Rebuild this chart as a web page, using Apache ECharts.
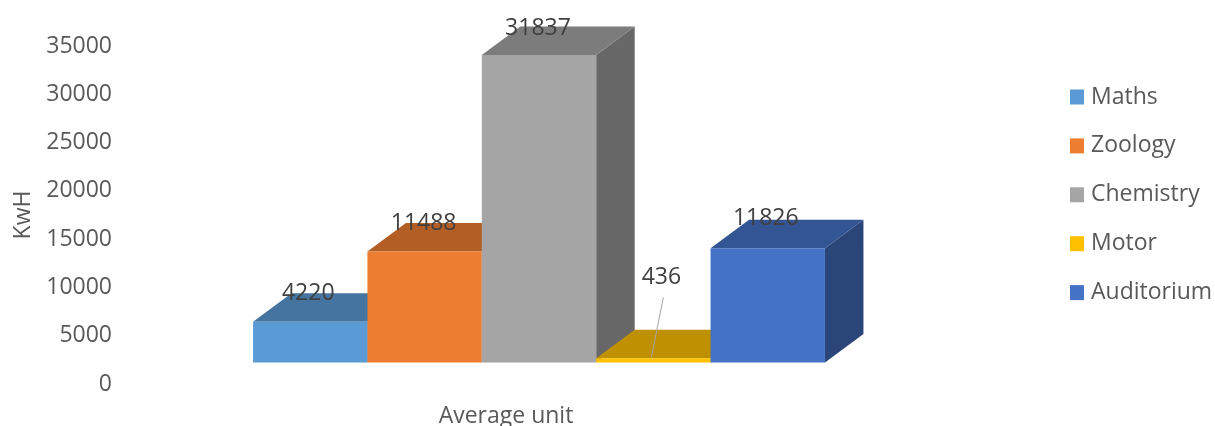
<!DOCTYPE html>
<html>
<head>
<meta charset="utf-8">
<style>
html,body{margin:0;padding:0;background:#fff;}
#chart{width:1215px;height:426px;filter:blur(0.6px);}
</style>
<script src="https://cdn.jsdelivr.net/npm/echarts@6/dist/echarts.min.js"></script>
</head>
<body>
<div id="chart"></div>
<script>
var categories = ['Average unit'];
var seriesNames = ['Maths', 'Zoology', 'Chemistry', 'Motor', 'Auditorium'];
var seriesValues = [4220, 11488, 31837, 436, 11826];
var yTicks = { min: 0, max: 35000, interval: 5000 };

var frontColors = ['#5B9BD5', '#ED7D31', '#A5A5A5', '#FFC000', '#4472C4'];
var topColors   = ['#44749F', '#B25E25', '#7C7C7C', '#BF9000', '#335593'];
var sideColors  = ['#3A6389', '#8F4B1D', '#676767', '#9A7400', '#2A4678'];

var FONT = '"Open Sans", sans-serif';
var TEXT = '#595959';
var BAR_FRACTION = 0.1474;   // one bar's share of the category band
var SHIFT_X = 33;            // the 3D floor sits right of and above the axis origin
var SHIFT_Y = -21.5;
var DEPTH_X = 38.5;
var DEPTH_Y = -28.5;
// data label placement relative to the centre of each bar's front top edge
var labelOffsets = [[-2, -28.5], [-1, -28.5], [-1, -26.5], [8, -81], [-2, -30]];
var leaders = [null, null, null, [[10, -61], [-2, -1]], null];

function makeRenderer(idx) {
  return function (params, api) {
    var base = api.coord([api.value(0), 0]);
    var top = api.coord([api.value(0), api.value(1)]);
    var band = api.size([1, 0])[0];
    var w = band * BAR_FRACTION;
    var x0 = base[0] + SHIFT_X + (idx - seriesNames.length / 2) * w;
    var x1 = x0 + w;
    var yb = base[1] + SHIFT_Y;
    var yt = top[1] + SHIFT_Y;
    var children = [
      { type: 'polygon', shape: { points: [[x1, yb], [x1 + DEPTH_X, yb + DEPTH_Y], [x1 + DEPTH_X, yt + DEPTH_Y], [x1, yt]] },
        style: { fill: sideColors[idx] } },
      { type: 'polygon', shape: { points: [[x0, yt], [x1, yt], [x1 + DEPTH_X, yt + DEPTH_Y], [x0 + DEPTH_X, yt + DEPTH_Y]] },
        style: { fill: topColors[idx] } },
      { type: 'rect', shape: { x: x0, y: yt, width: w, height: yb - yt },
        style: { fill: frontColors[idx] } }
    ];
    var cx = (x0 + x1) / 2;
    var leader = leaders[idx];
    if (leader) {
      children.push({ type: 'line',
        shape: { x1: cx + leader[0][0], y1: yt + leader[0][1], x2: cx + leader[1][0], y2: yt + leader[1][1] },
        style: { stroke: '#A6A6A6', lineWidth: 1 }, z2: 20 });
    }
    children.push({ type: 'text', z2: 30,
      style: { x: cx + labelOffsets[idx][0], y: yt + labelOffsets[idx][1], text: String(api.value(1)),
        fill: '#404040', font: '23px ' + FONT, textAlign: 'center', textVerticalAlign: 'middle' } });
    return { type: 'group', children: children };
  };
}

var series = seriesNames.map(function (name, i) {
  return {
    name: name,
    type: 'custom',
    coordinateSystem: 'cartesian2d',
    clip: false,
    z: 2 + i,
    itemStyle: { color: frontColors[i] },
    encode: { x: 0, y: 1 },
    data: [[0, seriesValues[i]]],
    renderItem: makeRenderer(i)
  };
});

var chart = echarts.init(document.getElementById('chart'), null, { renderer: 'canvas' });
chart.setOption({
  animation: false,
  backgroundColor: '#fff',
  grid: { left: 118, top: 46, width: 776, height: 338, containLabel: false, outerBoundsMode: 'none' },
  xAxis: {
    type: 'category',
    data: categories,
    axisLine: { show: false },
    axisTick: { show: false },
    splitLine: { show: false },
    axisLabel: { color: TEXT, fontFamily: FONT, fontSize: 23, margin: 21 }
  },
  yAxis: {
    type: 'value',
    min: yTicks.min,
    max: yTicks.max,
    interval: yTicks.interval,
    name: 'KwH',
    nameLocation: 'middle',
    nameGap: 83,
    nameTextStyle: { color: TEXT, fontFamily: FONT, fontSize: 23 },
    axisLine: { show: false },
    axisTick: { show: false },
    splitLine: { show: false },
    axisLabel: { color: TEXT, fontFamily: FONT, fontSize: 23, margin: 6, formatter: function (v) { return String(v); } }
  },
  legend: {
    orient: 'vertical',
    left: 1070,
    top: 85,
    padding: 0,
    icon: 'rect',
    itemWidth: 14,
    itemHeight: 15,
    itemGap: 24.9,
    selectedMode: false,
    data: seriesNames,
    textStyle: { color: TEXT, fontFamily: FONT, fontSize: 23, lineHeight: 24, padding: [0, 0, 0, 2] }
  },
  series: series
});
</script>
</body>
</html>
